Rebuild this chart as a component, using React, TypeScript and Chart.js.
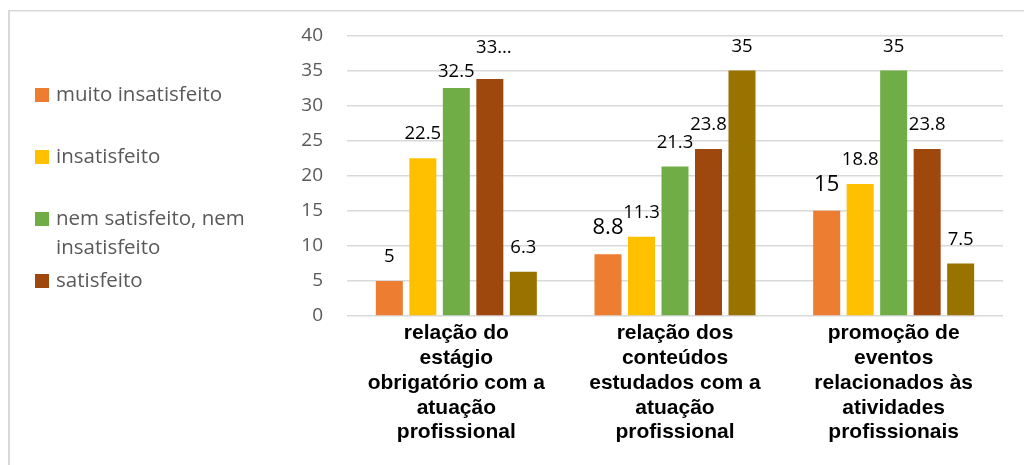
import React, { useEffect, useRef } from "react";
import { Chart, registerables } from "chart.js";

Chart.register(...registerables);

// ---------- data ----------
const categories: string[][] = [
  ["relação do", "estágio", "obrigatório com a", "atuação", "profissional"],
  ["relação dos", "conteúdos", "estudados com a", "atuação", "profissional"],
  ["promoção de", "eventos", "relacionados às", "atividades", "profissionais"],
];
const seriesNames = [
  "muito insatisfeito",
  "insatisfeito",
  "nem satisfeito, nem insatisfeito",
  "satisfeito",
  "muito satisfeito",
];
const muitoInsatisfeito = [5, 8.8, 15];
const insatisfeito = [22.5, 11.3, 18.8];
const nemSatisfeitoNemInsatisfeito = [32.5, 21.3, 35];
const satisfeito = [33.8, 23.8, 23.8];
const muitoSatisfeito = [6.3, 35, 7.5];
const yMin = 0;
const yMax = 40;
const yStep = 5;
// series shown in the legend (the last one is cut off in the original)
const legendSeriesCount = 4;

// ---------- styles ----------
const colors = ["#ED7D31", "#FFC000", "#70AD47", "#9E480E", "#997300"];
const CAL = "'Open Sans', 'Noto Sans', sans-serif";
const ARIAL = "'Liberation Sans', Arial, sans-serif";

// label styling tweaks: key = datasetIndex-dataIndex
const largeLabels = new Set(["0-1", "0-2"]);
const truncatedLabels = new Set(["3-0"]);
const labelNudge: Record<string, number> = { "2-0": 8, "3-0": -7 };

const frame = {
  id: "frame",
  beforeDraw(chart: any) {
    const ctx = chart.ctx;
    ctx.save();
    ctx.fillStyle = "#fff";
    ctx.fillRect(0, 0, chart.width, chart.height);
    ctx.fillStyle = "#d9d9d9";
    ctx.fillRect(8, 10, chart.width - 8, 1.5);
    ctx.fillRect(8, 10, 2, chart.height - 10);
    ctx.restore();
  },
};

const sideLegend = {
  id: "sideLegend",
  afterDraw(chart: any) {
    const ctx = chart.ctx;
    ctx.save();
    ctx.font = `20.5px ${CAL}`;
    ctx.textBaseline = "middle";
    ctx.textAlign = "left";
    const maxW = 230;
    chart.data.datasets.slice(0, legendSeriesCount).forEach((ds: any, i: number) => {
      const cy = 95 + 62 * i;
      ctx.fillStyle = ds.backgroundColor;
      ctx.fillRect(35, cy - 7, 14, 14);
      const words = String(ds.label).split(" ");
      const lines: string[] = [];
      let cur = "";
      for (const w of words) {
        const t = cur ? cur + " " + w : w;
        if (ctx.measureText(t).width > maxW && cur) {
          lines.push(cur);
          cur = w;
        } else cur = t;
      }
      if (cur) lines.push(cur);
      ctx.fillStyle = "#595959";
      lines.forEach((ln, k) => ctx.fillText(ln, 56, cy + 29 * k));
    });
    ctx.restore();
  },
};

const dataLabels = {
  id: "dataLabels",
  afterDatasetsDraw(chart: any) {
    const ctx = chart.ctx;
    ctx.save();
    ctx.textAlign = "center";
    ctx.textBaseline = "middle";
    ctx.fillStyle = "#000";
    chart.data.datasets.forEach((ds: any, di: number) => {
      const meta = chart.getDatasetMeta(di);
      meta.data.forEach((el: any, i: number) => {
        const key = `${di}-${i}`;
        const v = ds.data[i];
        let txt = String(v);
        if (truncatedLabels.has(key)) txt = txt.split(".")[0] + "…";
        const size = largeLabels.has(key) ? 22 : 18.5;
        ctx.font = `${size}px ${CAL}`;
        const off = 24 + (size - 18.5) * 0.6 - (labelNudge[key] || 0);
        const dx = truncatedLabels.has(key) ? 4 : 0;
        ctx.fillText(txt, el.x + dx, el.y - off);
      });
    });
    ctx.restore();
  },
};

export default function App() {
  const ref = useRef<HTMLCanvasElement | null>(null);
  useEffect(() => {
    if (!ref.current) return;
    const seriesData = [
      muitoInsatisfeito,
      insatisfeito,
      nemSatisfeitoNemInsatisfeito,
      satisfeito,
      muitoSatisfeito,
    ];
    const chart = new Chart(ref.current, {
      type: "bar",
      data: {
        labels: categories,
        datasets: seriesData.map((d, i) => ({
          label: seriesNames[i],
          data: d,
          backgroundColor: colors[i],
          borderWidth: 0,
          categoryPercentage: 0.766,
          barPercentage: 0.806,
        })),
      },
      options: {
        animation: false,
        responsive: false,
        devicePixelRatio: 1,
        layout: { padding: { left: 287, top: 34, right: 21, bottom: 0 } },
        plugins: {
          legend: { display: false },
          tooltip: { enabled: false },
          title: { display: false },
        },
        scales: {
          x: {
            grid: { display: false, drawTicks: false },
            border: { display: false },
            ticks: {
              autoSkip: false,
              maxRotation: 0,
              minRotation: 0,
              padding: 5,
              color: "#000",
              font: { family: ARIAL, size: 21, weight: "bold", lineHeight: 1.18 },
            },
            afterFit: (s: any) => {
              s.height = 149;
            },
          },
          y: {
            min: yMin,
            max: yMax,
            grid: { color: "#d9d9d9", lineWidth: 1.5, drawTicks: false },
            border: { display: false },
            ticks: {
              stepSize: yStep,
              padding: 24,
              color: "#595959",
              font: { family: CAL, size: 19 },
            },
            afterFit: (s: any) => {
              s.width = 60;
            },
          },
        },
      },
      plugins: [frame, dataLabels, sideLegend],
    });
    return () => chart.destroy();
  }, []);
  return (
    <div style={{ position: "fixed", left: 0, top: 0, width: 1024, height: 465, background: "#fff" }}>
      <canvas ref={ref} width={1024} height={465} style={{ display: "block" }} />
    </div>
  );
}
